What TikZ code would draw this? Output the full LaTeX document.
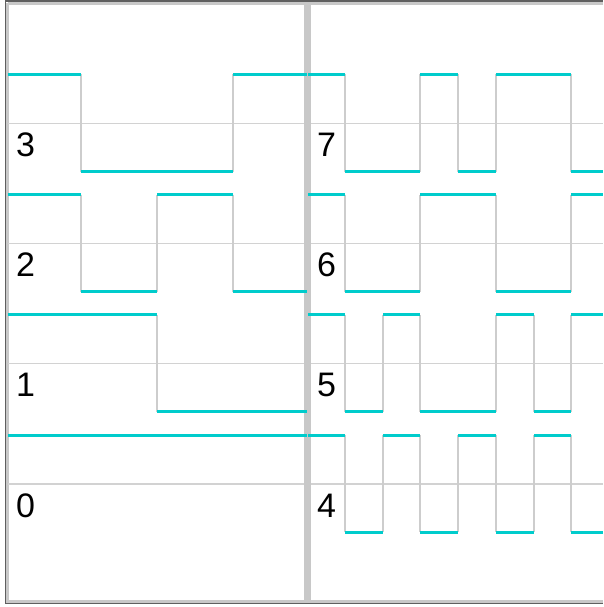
\documentclass[tikz,border=0pt]{standalone}
\usepackage{fontspec}
\setmainfont{Liberation Sans}
\definecolor{tracec}{RGB}{0,204,204}
\definecolor{gridc}{RGB}{210,210,210}
\definecolor{edgec}{RGB}{205,205,205}
\definecolor{framedark}{RGB}{95,95,95}
\definecolor{framelight}{RGB}{200,200,200}
\definecolor{divc}{RGB}{200,200,200}
\begin{document}
\begin{tikzpicture}[x=1pt,y=-1pt,
  trace/.style={draw=tracec,line width=3pt},
  edgeline/.style={draw=edgec,line width=1.4pt},
  gridline/.style={draw=gridc,line width=1.3pt},
  lbl/.style={anchor=base west,inner sep=0pt,font=\fontsize{34}{36}\selectfont}]
\useasboundingbox (0,0) rectangle (603,607);
\fill[white] (0,0) rectangle (603,607);
% frame
\draw[framelight,line width=3pt] (8,3.5) -- (603,3.5);
\draw[framelight,line width=2.5pt] (7.5,3) -- (7.5,601.5) -- (603,601.5);
\draw[framedark,line width=1.5pt] (5.5,0.8) -- (603,0.8);
\draw[framedark,line width=1.5pt] (5.5,0) -- (5.5,603.5) -- (603,603.5);
% grid lines
\foreach \g in {123.5,243.5,363.8,484}
  \draw[gridline] (8,\g) -- (603,\g);
% divider
\draw[divc,line width=6.5pt] (307.5,3) -- (307.5,601);
% transitions (vertical)
% rows: 3/7 (74.5,171.5), 2/6 (194.5,291.5), 1/5 (314.8,411.8), 0/4 (435,532)
\foreach \x in {81,233,345,420,458,496,571}
  \draw[edgeline] (\x,74.5) -- (\x,171.5);
\foreach \x in {81,157,233,345,420,496,571}
  \draw[edgeline] (\x,194.5) -- (\x,291.5);
\foreach \x in {157,345,383,420,496,534,571}
  \draw[edgeline] (\x,314.8) -- (\x,411.8);
\foreach \x in {345,383,420,458,496,534,571}
  \draw[edgeline] (\x,435) -- (\x,532);
% traces
\foreach \a/\b/\y in {8/81/74.5, 81/233/171.5, 233/307/74.5,
  308/345/74.5, 345/420/171.5, 420/458/74.5, 458/496/171.5, 496/571/74.5, 571/603/171.5}
  \draw[trace] (\a,\y) -- (\b,\y);
\foreach \a/\b/\y in {8/81/194.5, 81/157/291.5, 157/233/194.5, 233/307/291.5,
  308/345/194.5, 345/420/291.5, 420/496/194.5, 496/571/291.5, 571/603/194.5}
  \draw[trace] (\a,\y) -- (\b,\y);
\foreach \a/\b/\y in {8/157/314.8, 157/307/411.8,
  308/345/314.8, 345/383/411.8, 383/420/314.8, 420/496/411.8, 496/534/314.8, 534/571/411.8, 571/603/314.8}
  \draw[trace] (\a,\y) -- (\b,\y);
\foreach \a/\b/\y in {8/307/435,
  308/345/435, 345/383/532, 383/420/435, 420/458/532, 458/496/435, 496/534/532, 534/571/435, 571/603/532}
  \draw[trace] (\a,\y) -- (\b,\y);
% labels
\node[lbl] (l3) at (16,156.5) {3};
\node[lbl] (l2) at (16,276.5) {2};
\node[lbl] (l1) at (16,396.8) {1};
\node[lbl] (l0) at (16,517) {0};
\node[lbl] (l7) at (317,156.5) {7};
\node[lbl] (l6) at (317,276.5) {6};
\node[lbl] (l5) at (317,396.8) {5};
\node[lbl] (l4) at (317,517) {4};
\end{tikzpicture}
\end{document}
